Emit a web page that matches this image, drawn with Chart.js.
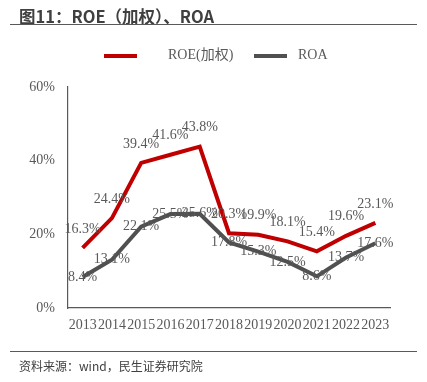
<!DOCTYPE html>
<html>
<head>
<meta charset="utf-8">
<script src="https://cdn.jsdelivr.net/npm/chart.js"></script>
<style>
  html, body { margin: 0; padding: 0; background: #fff; }
  #wrap { position: relative; width: 427px; height: 382px; overflow: hidden; }
  #chart { position: absolute; left: 0; top: 0; }
  .title {
    position: absolute; left: 19px; top: 4px;
    font: bold 16.5px "Noto Sans CJK SC", sans-serif; color: #404040;
  }
  .rule { position: absolute; left: 10px; width: 407px; height: 0; border-top: 1.5px solid #595959; }
  .source {
    position: absolute; left: 19px; top: 357px;
    font: 12px "Noto Sans CJK SC", sans-serif; color: #404040;
  }
</style>
</head>
<body>
<div id="wrap">
  <canvas id="chart" width="427" height="382"></canvas>
  <div class="title">图11：ROE（加权）、ROA</div>
  <div class="rule" style="top:24px"></div>
  <div class="rule" style="top:351px"></div>
  <div class="source">资料来源：wind，民生证券研究院</div>
</div>
<script>
// values, in %
const years = ['2013', '2014', '2015', '2016', '2017', '2018', '2019', '2020', '2021', '2022', '2023']
const roe = [16.3, 24.4, 39.4, 41.6, 43.8, 20.3, 19.9, 18.1, 15.4, 19.6, 23.1]
const roa = [8.4, 13.1, 22.1, 25.5, 25.6, 17.8, 15.3, 12.5, 8.6, 13.7, 17.6]
const yTicks = [0, 20, 40, 60]

const serif = '"Liberation Serif", "Times New Roman", "Noto Sans CJK SC", serif'
const textGray = '#595959'

// value labels: ROE sits above its point, ROA is centred on it
const valueLabels = {
  id: 'valueLabels',
  afterDatasetsDraw (chart) {
    const ctx = chart.ctx
    ctx.save()
    ctx.font = '14px ' + serif
    ctx.fillStyle = textGray
    ctx.textAlign = 'center'
    ctx.textBaseline = 'middle'
    chart.data.datasets.forEach((ds, i) => {
      chart.getDatasetMeta(i).data.forEach((pt, j) => {
        ctx.fillText(ds.data[j].toFixed(1) + '%', pt.x, pt.y + ds.labelShift)
      })
    })
    ctx.restore()
  }
}

// legend with a wide gap between swatch and text, like the original
const lineLegend = {
  id: 'lineLegend',
  afterDraw (chart) {
    const ctx = chart.ctx
    const y = 56
    const items = [
      { swatch: 104, text: 168 },
      { swatch: 254, text: 298 }
    ]
    ctx.save()
    ctx.font = '14px ' + serif
    ctx.textBaseline = 'middle'
    chart.data.datasets.forEach((ds, i) => {
      ctx.fillStyle = ds.borderColor
      ctx.fillRect(items[i].swatch, y - 2, 33, 4)
      ctx.fillStyle = textGray
      ctx.fillText(ds.label, items[i].text, y - 1)
    })
    ctx.restore()
  }
}

new Chart(document.getElementById('chart'), {
  type: 'line',
  data: {
    labels: years,
    datasets: [{
      label: 'ROE(加权)',
      data: roe,
      borderColor: '#C00000',
      borderWidth: 4,
      pointRadius: 0,
      tension: 0,
      labelShift: -19
    }, {
      label: 'ROA',
      data: roa,
      borderColor: '#505050',
      borderWidth: 4,
      pointRadius: 0,
      tension: 0,
      labelShift: 0
    }]
  },
  options: {
    responsive: false,
    animation: false,
    layout: { padding: { top: 87, left: 0, right: 37, bottom: 44 } },
    plugins: {
      legend: { display: false },
      tooltip: { enabled: false }
    },
    scales: {
      x: {
        offset: true,
        grid: { display: false, drawTicks: false },
        border: { color: textGray, width: 1.2 },
        ticks: {
          autoSkip: false,
          maxRotation: 0,
          padding: 9,
          color: textGray,
          font: { family: serif, size: 14 }
        },
        afterFit: (scale) => { scale.height = 30 }
      },
      y: {
        min: 0,
        max: 60,
        afterBuildTicks: (scale) => { scale.ticks = yTicks.map(v => ({ value: v })) },
        grid: { display: false, drawTicks: false },
        border: { color: textGray, width: 1.2 },
        ticks: {
          padding: 13,
          color: textGray,
          font: { family: serif, size: 14 },
          callback: (v) => v + '%'
        },
        afterFit: (scale) => { scale.width = 68 }
      }
    }
  },
  plugins: [valueLabels, lineLegend]
})
</script>
</body>
</html>
